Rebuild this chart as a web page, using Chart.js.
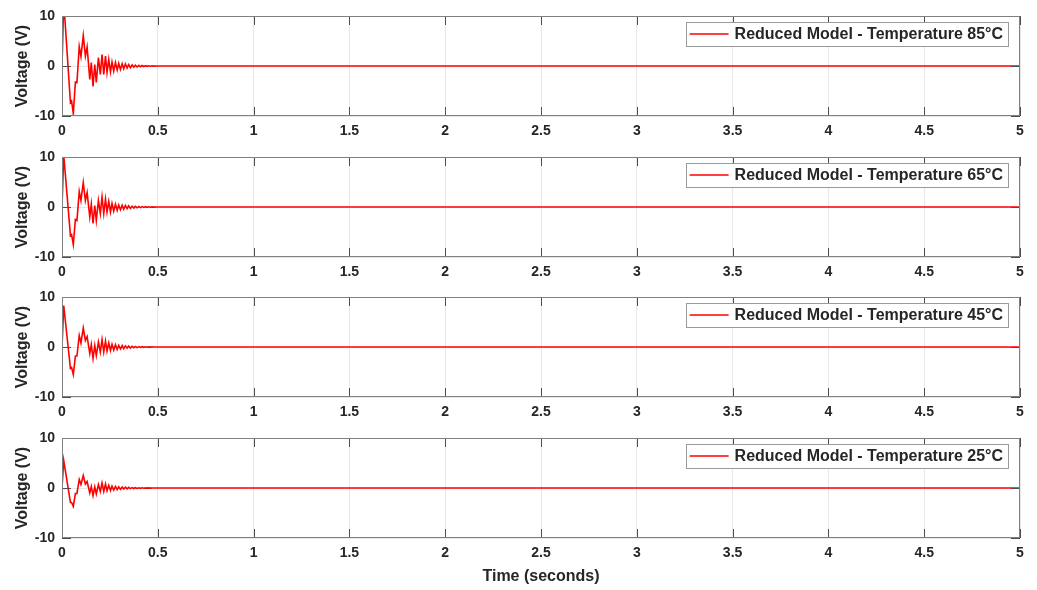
<!DOCTYPE html>
<html>
<head>
<meta charset="utf-8">
<script src="https://cdn.jsdelivr.net/npm/chart.js@4/dist/chart.umd.min.js"></script>
<style>
  html, body { margin: 0; padding: 0; background: #ffffff; }
  #wrap { position: relative; width: 1037px; height: 590px; }
  #wrap canvas { position: absolute; left: 0; top: 0; }
</style>
</head>
<body>
<div id="wrap"></div>
<script>
// Simulation time stamps (s), shared by all four temperature runs
const timeSec = [0, 0.009, 0.044, 0.05, 0.059, 0.07, 0.078, 0.09, 0.099, 0.111,
  0.122, 0.131, 0.145, 0.153, 0.162, 0.171, 0.179, 0.19, 0.2, 0.209,
  0.218, 0.227, 0.235, 0.244, 0.253, 0.261, 0.27, 0.279, 0.288, 0.296,
  0.305, 0.314, 0.322, 0.331, 0.34, 0.348, 0.357, 0.366, 0.375, 0.383,
  0.392, 0.401, 0.409, 0.418, 0.427, 0.436, 0.444, 0.453, 0.462, 0.47,
  0.48, 0.5, 5];

// Output voltage (V) of the reduced model at each temperature
const volt85 = [0, 13, -7.3, -7.0, -9.5, -3.2, -3.3, 3.9, 1.9, 6.1,
  2.0, 3.8, -2.7, 0.7, -4.1, 0.3, -3.3, 1.7, -1.7, 2.3,
  -1.7, 2.0, -1.3, 1.3, -1.2, 0.8, -1.0, 0.7, -0.8, 0.5,
  -0.7, 0.45, -0.55, 0.4, -0.4, 0.3, -0.35, 0.2, -0.25, 0.15,
  -0.2, 0.12, -0.15, 0.1, -0.1, 0.07, -0.07, 0.05, -0.05, 0.03,
  -0.02, 0, 0];
const volt65 = [0, 10.4, -5.7, -5.5, -7.5, -2.5, -2.7, 3.1, 1.3, 4.9,
  1.3, 2.9, -2.0, 0.6, -3.3, 0.3, -2.7, 1.3, -1.3, 2.0,
  -1.3, 1.6, -1.0, 1.1, -1.0, 0.7, -0.8, 0.55, -0.65, 0.4,
  -0.55, 0.35, -0.45, 0.3, -0.32, 0.24, -0.28, 0.16, -0.2, 0.12,
  -0.16, 0.1, -0.12, 0.08, -0.08, 0.06, -0.06, 0.04, -0.04, 0.02,
  -0.02, 0, 0];
const volt45 = [0, 8.3, -4.3, -4.1, -5.5, -1.8, -1.8, 2.3, 0.8, 3.8,
  1.3, 2.1, -1.3, 0.5, -2.3, 0.3, -1.7, 1.0, -1.0, 1.5,
  -1.0, 1.2, -0.8, 0.8, -0.7, 0.55, -0.6, 0.45, -0.5, 0.35,
  -0.4, 0.28, -0.33, 0.22, -0.25, 0.18, -0.2, 0.12, -0.15, 0.1,
  -0.12, 0.08, -0.09, 0.06, -0.06, 0.04, -0.04, 0.03, -0.03, 0.02,
  -0.01, 0, 0];
const volt25 = [0, 5.5, -2.9, -2.9, -3.7, -1.1, -1.1, 1.7, 0.7, 2.5,
  0.8, 1.3, -1.0, 0.3, -1.5, 0.2, -1.2, 0.7, -0.7, 1.0,
  -0.7, 0.8, -0.55, 0.55, -0.5, 0.38, -0.4, 0.3, -0.33, 0.24,
  -0.27, 0.19, -0.22, 0.15, -0.17, 0.12, -0.13, 0.08, -0.1, 0.07,
  -0.08, 0.05, -0.06, 0.04, -0.04, 0.03, -0.03, 0.02, -0.02, 0.01,
  -0.01, 0, 0];

const seriesLabels = [
  'Reduced Model - Temperature 85°C',
  'Reduced Model - Temperature 65°C',
  'Reduced Model - Temperature 45°C',
  'Reduced Model - Temperature 25°C'
];
const seriesValues = [volt85, volt65, volt45, volt25];

const xTickValues = [0, 0.5, 1, 1.5, 2, 2.5, 3, 3.5, 4, 4.5, 5];
const xTickLabels = ['0', '0.5', '1', '1.5', '2', '2.5', '3', '3.5', '4', '4.5', '5'];
const yTickValues = [-10, 0, 10];
const yTickLabels = ['-10', '0', '10'];
const yTitle = 'Voltage (V)';
const xTitle = 'Time (seconds)';

const FONT_FAMILY = '"Liberation Sans", Arial, Helvetica, sans-serif';
const TEXT_COLOR = '#262626';
const W = 1037, H = 590;
const PLOT_LEFT = 62, PLOT_RIGHT = 1020, PLOT_H = 100;
const panelTops = [16, 157, 297, 438];

// Axes box, inward tick marks and the in-axes legend
const boxPlugin = {
  id: 'boxAndLegend',
  afterDatasetsDraw(chart) {
    const { ctx, chartArea: a, scales } = chart;
    ctx.save();
    // inward ticks
    ctx.strokeStyle = '#4d4d4d';
    ctx.lineWidth = 1;
    ctx.beginPath();
    xTickValues.forEach(v => {
      const px = Math.round(scales.x.getPixelForValue(v)) + 0.5;
      ctx.moveTo(px, a.bottom); ctx.lineTo(px, a.bottom - 9);
      ctx.moveTo(px, a.top); ctx.lineTo(px, a.top + 9);
    });
    yTickValues.forEach(v => {
      const py = Math.round(scales.y.getPixelForValue(v)) + 0.5;
      ctx.moveTo(a.left, py); ctx.lineTo(a.left + 9, py);
      ctx.moveTo(a.right, py); ctx.lineTo(a.right - 9, py);
    });
    ctx.stroke();
    // box
    ctx.strokeStyle = '#808080';
    ctx.strokeRect(a.left + 0.5, a.top + 0.5, a.right - a.left - 1, a.bottom - a.top - 1);

    // legend
    const label = chart.data.datasets[0].label;
    ctx.font = 'bold 16px ' + FONT_FAMILY;
    const tw = ctx.measureText(label).width;
    const boxRight = a.right - 12;
    const boxLeft = boxRight - (49 + tw + 5);
    const boxTop = a.top + 6;
    const boxH = 24;
    ctx.fillStyle = '#ffffff';
    ctx.fillRect(boxLeft, boxTop, boxRight - boxLeft, boxH);
    ctx.strokeStyle = '#9a9a9a';
    ctx.strokeRect(Math.round(boxLeft) + 0.5, boxTop + 0.5, Math.round(boxRight - boxLeft), boxH);
    ctx.strokeStyle = '#ff0000';
    ctx.lineWidth = 1.5;
    ctx.beginPath();
    ctx.moveTo(boxLeft + 4, boxTop + boxH / 2);
    ctx.lineTo(boxLeft + 43, boxTop + boxH / 2);
    ctx.stroke();
    ctx.fillStyle = TEXT_COLOR;
    ctx.textBaseline = 'middle';
    ctx.textAlign = 'left';
    ctx.fillText(label, boxLeft + 49, boxTop + boxH / 2 + 1);
    ctx.restore();
  }
};

const wrap = document.getElementById('wrap');

seriesValues.forEach((vals, i) => {
  const isLast = i === seriesValues.length - 1;
  const axisH = isLast ? 50 : 30;
  const top = panelTops[i];
  const canvas = document.createElement('canvas');
  canvas.width = W; canvas.height = H;
  canvas.style.width = W + 'px'; canvas.style.height = H + 'px';
  wrap.appendChild(canvas);

  new Chart(canvas, {
    type: 'line',
    data: {
      datasets: [{
        label: seriesLabels[i],
        data: timeSec.map((t, k) => ({ x: t, y: vals[k] })),
        borderColor: '#ff0000',
        borderWidth: 1.6,
        pointRadius: 0,
        tension: 0,
        fill: false
      }]
    },
    options: {
      responsive: false,
      animation: false,
      events: [],
      devicePixelRatio: 1,
      layout: {
        padding: { left: 0, right: W - PLOT_RIGHT, top: top, bottom: H - top - PLOT_H - axisH }
      },
      plugins: { legend: { display: false }, tooltip: { enabled: false } },
      scales: {
        x: {
          type: 'linear',
          min: 0, max: 5,
          afterFit: s => { s.height = axisH; },
          afterBuildTicks: s => { s.ticks = xTickValues.map(v => ({ value: v })); },
          grid: { color: '#e8e8e8', lineWidth: 1, drawTicks: false },
          border: { display: false },
          ticks: {
            padding: 7,
            maxRotation: 0,
            autoSkip: false,
            color: TEXT_COLOR,
            font: { family: FONT_FAMILY, size: 14, weight: 'bold' },
            callback: (v, idx) => xTickLabels[idx]
          },
          title: {
            display: isLast,
            text: xTitle,
            color: TEXT_COLOR,
            padding: { top: 0, bottom: 2 },
            font: { family: FONT_FAMILY, size: 16, weight: 'bold' }
          }
        },
        y: {
          type: 'linear',
          min: -10, max: 10,
          afterFit: s => { s.width = PLOT_LEFT; },
          afterBuildTicks: s => { s.ticks = yTickValues.map(v => ({ value: v })); },
          grid: { color: '#e8e8e8', lineWidth: 1, drawTicks: false },
          border: { display: false },
          ticks: {
            padding: 7,
            color: TEXT_COLOR,
            font: { family: FONT_FAMILY, size: 14, weight: 'bold' },
            callback: (v, idx) => yTickLabels[idx]
          },
          title: {
            display: true,
            text: yTitle,
            color: TEXT_COLOR,
            padding: { top: 13, bottom: 0 },
            font: { family: FONT_FAMILY, size: 16, weight: 'bold' }
          }
        }
      }
    },
    plugins: [boxPlugin]
  });
});
</script>
</body>
</html>
